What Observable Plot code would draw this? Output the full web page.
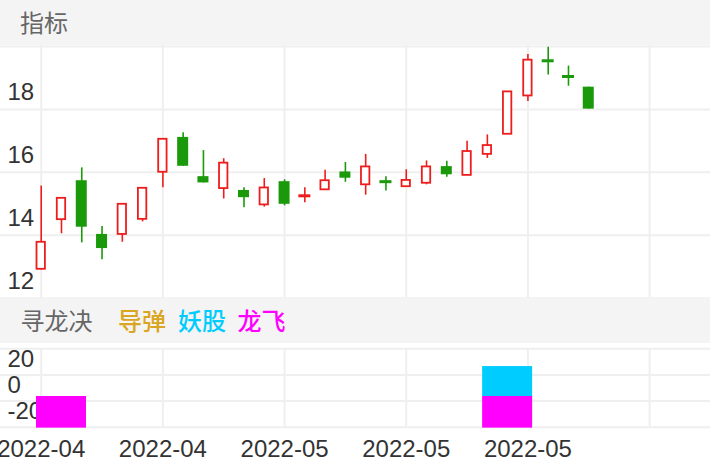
<!DOCTYPE html>
<html>
<head>
<meta charset="utf-8">
<script src="https://cdn.jsdelivr.net/npm/d3@7"></script>
<script src="https://cdn.jsdelivr.net/npm/@observablehq/plot@0.6"></script>
<style>
  html, body { margin: 0; padding: 0; background: #fff; }
  body { width: 710px; height: 472px; overflow: hidden; font-family: "Liberation Sans", "Noto Sans CJK SC", sans-serif; }
  .band { background: #f4f4f4; height: 45px; position: relative; font-family: "Noto Sans CJK SC", sans-serif; font-size: 24px; color: #666; }
  .band span { position: absolute; top: 0; line-height: 43px; white-space: nowrap; }
  .band span.leg { font-weight: 500; }
  svg { display: block; }
</style>
</head>
<body>
<div class="band" id="head1"><span style="left:20px">指标</span></div>
<div id="top"></div>
<div class="band" id="head2"></div>
<div id="bottom"></div>
<script>
// ---- data ----
const dates = ["2022-04-18","2022-04-19","2022-04-20","2022-04-21","2022-04-22","2022-04-25","2022-04-26",
  "2022-04-27","2022-04-28","2022-04-29","2022-05-05","2022-05-06","2022-05-09","2022-05-10","2022-05-11",
  "2022-05-12","2022-05-13","2022-05-16","2022-05-17","2022-05-18","2022-05-19","2022-05-20","2022-05-23",
  "2022-05-24","2022-05-25","2022-05-26","2022-05-27","2022-05-30"];
const opens  = [12.37,13.95,15.19,13.48,13.48,13.96,15.46,16.57,15.32,14.94,14.88,14.42,15.16,14.70,14.90,15.47,15.06,15.17,15.00,15.11,15.64,15.36,16.03,16.67,17.89,19.02,18.52,18.17];
const highs  = [15.02,14.63,15.60,13.73,14.44,14.95,16.51,16.72,16.15,15.89,14.97,15.26,15.22,14.97,15.52,15.77,16.03,15.32,15.54,15.82,15.81,16.45,16.65,18.02,19.21,19.44,18.84,18.17];
const lows   = [12.35,13.50,13.21,12.67,13.23,13.88,14.97,15.65,15.12,14.61,14.33,14.35,14.39,14.49,14.88,15.14,14.73,14.86,15.00,15.06,15.30,15.36,15.90,16.67,17.71,18.56,18.20,17.47];
const closes = [13.23,14.63,13.71,13.03,14.44,14.95,16.51,15.65,15.12,15.75,14.65,14.96,14.44,14.72,15.19,15.27,15.63,15.15,15.20,15.63,15.38,16.12,16.31,18.02,19.03,19.00,18.50,17.47];

const yTicksTop = [12, 14, 16, 18];
const yTicksBottom = [-20, 0, 20];
const xTickIdx = [0, 6, 12, 18, 24];
const xTickLabels = ["2022-04", "2022-04", "2022-05", "2022-05", "2022-05"];
const gridIdx = [0, 6, 12, 18, 24, 30];

// 寻龙决 indicator bars
const indicatorNames = ["导弹", "妖股", "龙飞"];
const indicatorColors = ["#daa520", "#00ccff", "#ff00ff"];
const missileIdx = [], missileLow = [], missileHigh = [];
const demonIdx = [23], demonLow = [-8.3], demonHigh = [14.6];
const dragonIdx = [1, 23], dragonLow = [-32.5, -32.5], dragonHigh = [-8.3, -8.3];

// ---- styles ----
const RED = "#ee1d1d", GREEN = "#1a9a0a", GRID = "#efefef";
const FONT = "'Liberation Sans', 'Noto Sans CJK SC', sans-serif";
const xDomain = [-2.007, 33.003];
const topDomain = [11.449, 19.465];
const botDomain = [-31.78, 28.18];

const candles = dates.map((d, i) => ({i, date: d, open: opens[i], high: highs[i], low: lows[i], close: closes[i]}));
const isDoji = d => Math.abs(d.close - d.open) < 0.05;
const upC = candles.filter(d => d.close >= d.open);
const downC = candles.filter(d => d.close < d.open);
const upBody = upC.filter(d => !isDoji(d)), downBody = downC.filter(d => !isDoji(d));
const upDoji = upC.filter(isDoji), downDoji = downC.filter(isDoji);

const hGridTop = d3.range(5).map(k => topDomain[0] + (topDomain[1] - topDomain[0]) * k / 4);
const hGridBot = d3.range(4).map(k => botDomain[0] + (botDomain[1] - botDomain[0]) * k / 3);

const bwR = 0.207, bwG = 0.271, cw = 0.296;

const topPlot = Plot.plot({
  width: 710, height: 253, margin: 0,
  style: {background: "transparent", fontFamily: FONT, overflow: "visible"},
  x: {domain: xDomain, range: [0, 710], axis: null},
  y: {domain: topDomain, range: [252.7, 1], axis: null},
  marks: [
    Plot.ruleY(hGridTop, {stroke: GRID, strokeWidth: 2}),
    Plot.ruleX(gridIdx, {stroke: GRID, strokeWidth: 2}),
    Plot.text(yTicksTop, {x: xDomain[0], y: d => d, text: d => String(d), textAnchor: "start", dx: 7, fontSize: 24, fill: "#333"}),
    Plot.ruleX(upC, {x: "i", y1: "low", y2: "high", stroke: RED, strokeWidth: 1.6}),
    Plot.ruleX(downC, {x: "i", y1: "low", y2: "high", stroke: GREEN, strokeWidth: 1.6}),
    Plot.rect(upBody, {x1: d => d.i - bwR, x2: d => d.i + bwR, y1: "open", y2: "close", fill: "white", stroke: RED, strokeWidth: 1.8}),
    Plot.rect(downBody, {x1: d => d.i - bwG, x2: d => d.i + bwG, y1: "open", y2: "close", fill: GREEN}),
    Plot.ruleY(upDoji, {y: d => (d.open + d.close) / 2, x1: d => d.i - cw, x2: d => d.i + cw, stroke: RED, strokeWidth: 3}),
    Plot.ruleY(downDoji, {y: d => (d.open + d.close) / 2, x1: d => d.i - cw, x2: d => d.i + cw, stroke: GREEN, strokeWidth: 3})
  ]
});
document.getElementById("top").appendChild(topPlot);

// band 2 title + legend
const head2 = document.getElementById("head2");
const lefts = [118, 178, 237.5];
head2.innerHTML = `<span style="left:20.5px">寻龙决</span>` +
  indicatorNames.map((n, k) => `<span class="leg" style="left:${lefts[k]}px;color:${indicatorColors[k]}">${n}</span>`).join("");

const toRows = (idx, lo, hi) => idx.map((v, k) => ({i: v, lo: lo[k], hi: hi[k]}));
const missile = toRows(missileIdx, missileLow, missileHigh);
const demon = toRows(demonIdx, demonLow, demonHigh);
const dragon = toRows(dragonIdx, dragonLow, dragonHigh);
const barHalf = 1.233;

const botPlot = Plot.plot({
  width: 710, height: 129, margin: 0,
  style: {background: "transparent", fontFamily: FONT, overflow: "visible"},
  x: {domain: xDomain, range: [0, 710], axis: null},
  y: {domain: botDomain, range: [83.7, 5.3], axis: null},
  marks: [
    Plot.ruleY(hGridBot, {stroke: GRID, strokeWidth: 2}),
    Plot.ruleX(gridIdx, {y1: botDomain[0], y2: botDomain[1], stroke: GRID, strokeWidth: 2}),
    Plot.text(yTicksBottom, {x: xDomain[0], y: d => d, text: d => String(d), textAnchor: "start", dx: 7, fontSize: 24, fill: "#333"}),
    Plot.rect(missile, {x1: d => d.i - barHalf, x2: d => d.i + barHalf, y1: "lo", y2: "hi", fill: indicatorColors[0]}),
    Plot.rect(demon, {x1: d => d.i - barHalf, x2: d => d.i + barHalf, y1: "lo", y2: "hi", fill: indicatorColors[1]}),
    Plot.rect(dragon, {x1: d => d.i - barHalf, x2: d => d.i + barHalf, y1: "lo", y2: "hi", fill: indicatorColors[2]}),
    Plot.text(xTickIdx, {x: d => d, y: botDomain[0], dy: 22, text: (d, k) => xTickLabels[k], fontSize: 24, fill: "#333"})
  ]
});
document.getElementById("bottom").appendChild(botPlot);
</script>
</body>
</html>
